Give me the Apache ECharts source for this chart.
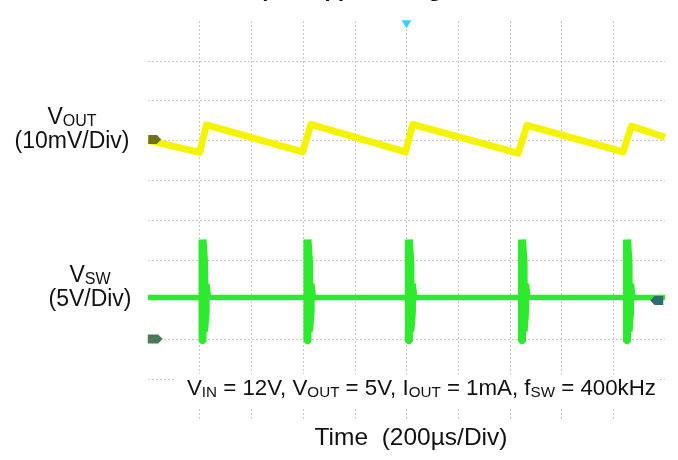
<!DOCTYPE html>
<html>
<head>
<meta charset="utf-8">
<script src="https://cdn.jsdelivr.net/npm/echarts@6/dist/echarts.min.js"></script>
<style>
  html, body { margin: 0; padding: 0; background: #fff; }
  #chart { width: 678px; height: 460px; }
</style>
</head>
<body>
<div id="chart"></div>
<script>
// scope screen: 10 x 10 divisions, values in divisions
const voutTime = [0, 1.0, 1.13, 2.99, 3.15, 4.98, 5.12, 7.16, 7.33, 9.19, 9.35, 10]
const voutLevel = [7.0, 6.70, 7.39, 6.71, 7.40, 6.71, 7.40, 6.68, 7.38, 6.71, 7.36, 7.08]

// switch node: flat at Vout, ringing bursts at each pulse
const swBase = 3.05
const spikeStart = [0.98, 3.01, 4.97, 7.16, 9.19]
// one burst read from the first pulse: [offset, level]
const spikeShape = [
  [0.05, 3.05], [0.05, 4.51], [0.05, 1.95], [0.10, 1.95], [0.10, 4.51],
  [0.13, 3.9], [0.13, 2.2], [0.16, 2.7], [0.16, 3.4], [0.19, 3.05]
]

const chart = echarts.init(document.getElementById('chart'))

const voutData = voutTime.map((t, i) => [t, voutLevel[i]])
const swData = [[0, swBase]]
spikeStart.forEach(t => {
  swData.push([t, swBase])
  spikeShape.forEach(p => swData.push([t + p[0], p[1]]))
})
swData.push([10, swBase])

const gridLine = {
  show: true,
  showMinLine: false,
  showMaxLine: false,
  lineStyle: { color: '#c6c6c6', type: [2, 2], width: 1 }
}

const axisBase = {
  type: 'value',
  min: 0,
  max: 10,
  interval: 1,
  axisLine: { show: false },
  axisTick: { show: false },
  axisLabel: { show: false },
  splitLine: gridLine
}

const font = '"Liberation Sans", Arial, sans-serif'

const option = {
  backgroundColor: '#fff',
  animation: false,
  grid: { left: 148, right: 13, top: 21, bottom: 41 },
  xAxis: axisBase,
  yAxis: axisBase,
  series: [
    {
      name: 'VOUT',
      type: 'line',
      data: voutData,
      symbol: 'none',
      lineStyle: { color: '#f4f400', width: 7, join: 'round' },
      markPoint: {
        label: { show: false },
        data: [
          {
            coord: [0.13, 7.02],
            symbol: 'path://M0,0 L8,0 L12,5 L8,10 L0,10 Z',
            symbolSize: [13, 9],
            itemStyle: { color: '#6f6f1c' }
          },
          {
            coord: [5.0, 9.92],
            symbol: 'triangle',
            symbolRotate: 180,
            symbolSize: [10, 8],
            itemStyle: { color: '#35d4ee' }
          }
        ]
      }
    },
    {
      name: 'VSW',
      type: 'line',
      data: swData,
      symbol: 'none',
      lineStyle: { color: '#2eea2e', width: 5.5, join: 'bevel' },
      markPoint: {
        label: { show: false },
        data: [
          {
            coord: [0.14, 2.01],
            symbol: 'path://M0,0 L9,0 L13,5 L9,10 L0,10 Z',
            symbolSize: [15, 9],
            itemStyle: { color: '#4b7a55' }
          },
          {
            coord: [9.84, 2.98],
            symbol: 'path://M4,0 L12,0 L12,10 L4,10 L0,5 Z',
            symbolSize: [13, 9],
            itemStyle: { color: '#2f6d70' }
          }
        ]
      }
    }
  ],
  graphic: [
    {
      type: 'text', left: 'center', top: -21, z: 5,
      style: { text: 'Output Ripple Voltage', font: 'bold 22px ' + font, fill: '#111' }
    },
    {
      type: 'rect', z: 5,
      shape: { x: 176, y: 374, width: 481, height: 34 },
      style: { fill: '#fff' }
    },
    {
      type: 'text', x: 187, y: 389, z: 6,
      style: {
        text: '{m|V}{s|IN}{m| = 12V, V}{s|OUT}{m| = 5V, I}{s|OUT}{m| = 1mA, f}{s|SW}{m| = 400kHz}',
        verticalAlign: 'middle',
        rich: {
          m: { fontFamily: font, fontSize: 22.3, fill: '#111', verticalAlign: 'bottom' },
          s: { fontFamily: font, fontSize: 15.2, fill: '#111', verticalAlign: 'bottom' }
        }
      }
    },
    {
      type: 'text', x: 72, y: 118, z: 6,
      style: {
        text: '{m|V}{s|OUT}', align: 'center', verticalAlign: 'middle',
        rich: {
          m: { fontFamily: font, fontSize: 23, fill: '#111', verticalAlign: 'bottom' },
          s: { fontFamily: font, fontSize: 16, fill: '#111', verticalAlign: 'bottom' }
        }
      }
    },
    {
      type: 'text', x: 72, y: 142, z: 6,
      style: { text: '(10mV/Div)', font: '23px ' + font, fill: '#111', align: 'center', verticalAlign: 'middle' }
    },
    {
      type: 'text', x: 90, y: 276, z: 6,
      style: {
        text: '{m|V}{s|SW}', align: 'center', verticalAlign: 'middle',
        rich: {
          m: { fontFamily: font, fontSize: 23, fill: '#111', verticalAlign: 'bottom' },
          s: { fontFamily: font, fontSize: 16, fill: '#111', verticalAlign: 'bottom' }
        }
      }
    },
    {
      type: 'text', x: 90, y: 300, z: 6,
      style: { text: '(5V/Div)', font: '23px ' + font, fill: '#111', align: 'center', verticalAlign: 'middle' }
    },
    {
      type: 'text', x: 411, y: 438, z: 6,
      style: { text: 'Time  (200µs/Div)', font: '24.5px ' + font, fill: '#111', align: 'center', verticalAlign: 'middle' }
    }
  ]
}

chart.setOption(option)
</script>
</body>
</html>
